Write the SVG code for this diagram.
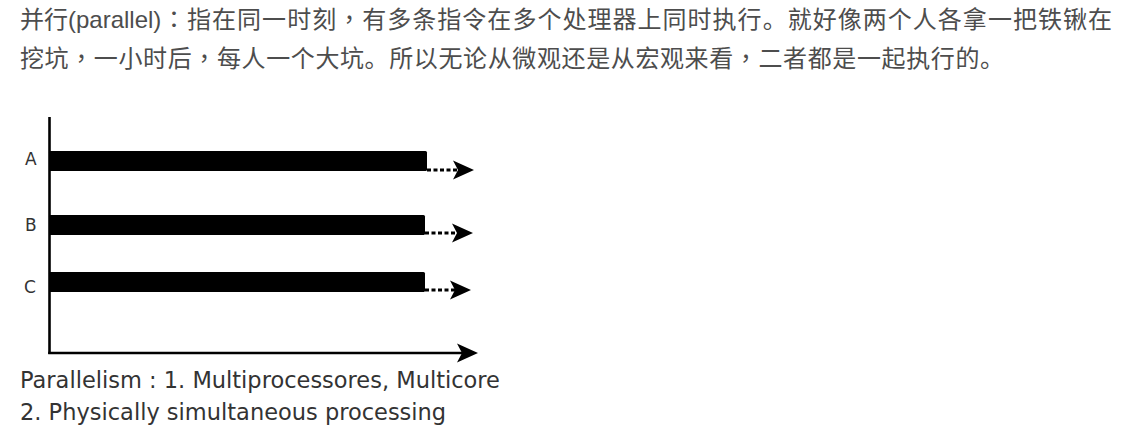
<svg xmlns="http://www.w3.org/2000/svg" width="1136" height="430" viewBox="0 0 1136 430">
<style>
.cn{font-family:"Liberation Sans","Noto Sans CJK SC",sans-serif;font-size:24px;fill:#4d4d4d}
.p{font-family:"Noto Sans CJK TC",sans-serif}
.lbl{font-family:"DejaVu Sans",sans-serif;font-size:17px;fill:#333}
.cap{font-family:"DejaVu Sans",sans-serif;font-size:22.5px;fill:#333}
.bar{fill:#000}
.dot{stroke:#000;stroke-width:3;stroke-dasharray:4 2.5;fill:none}
.axis{stroke:#000;stroke-width:2.6;fill:none}
</style>
<defs>
<marker id="head" markerUnits="userSpaceOnUse" viewBox="0 0 22 20" markerWidth="22" markerHeight="20" refX="5" refY="10" orient="auto">
<path d="M0,0.5 L21,10 L0,19.5 L5,10 Z" fill="#000"/>
</marker>
</defs>
<rect width="1136" height="430" fill="#fff"/>
<g id="intro">
<text class="cn" x="20" y="28">并行(parallel)</text>
<text class="cn" x="162" y="28" textLength="950" lengthAdjust="spacing"><tspan class="p">：</tspan>指在同一时刻<tspan class="p">，</tspan>有多条指令在多个处理器上同时执行。就好像两个人各拿一把铁锹在</text>
<text class="cn" x="20" y="67" textLength="984" lengthAdjust="spacing">挖坑<tspan class="p">，</tspan>一小时后<tspan class="p">，</tspan>每人一个大坑。所以无论从微观还是从宏观来看<tspan class="p">，</tspan>二者都是一起执行的。</text>
</g>
<g id="node-A">
<text class="lbl" x="25" y="165">A</text>
<rect class="bar" x="49" y="151" width="378" height="20" rx="1.5"/>
</g>
<g id="node-B">
<text class="lbl" x="25" y="231">B</text>
<rect class="bar" x="49" y="215" width="376" height="20" rx="1.5"/>
</g>
<g id="node-C">
<text class="lbl" x="24" y="293">C</text>
<rect class="bar" x="49" y="272" width="376" height="20" rx="1.5"/>
</g>
<g id="connectors">
<line class="axis" x1="49.5" y1="117" x2="49.5" y2="354"/>
<line class="axis" x1="48.2" y1="353" x2="462" y2="353" marker-end="url(#head)"/>
<line class="dot" x1="427" y1="170" x2="458" y2="170" marker-end="url(#head)"/>
<line class="dot" x1="425" y1="233" x2="457" y2="233" marker-end="url(#head)"/>
<line class="dot" x1="425" y1="290" x2="455" y2="290" marker-end="url(#head)"/>
</g>
<g id="caption">
<text class="cap" x="20" y="388">Parallelism : 1. Multiprocessores, Multicore</text>
<text class="cap" x="20" y="420">2. Physically simultaneous processing</text>
</g>
</svg>
